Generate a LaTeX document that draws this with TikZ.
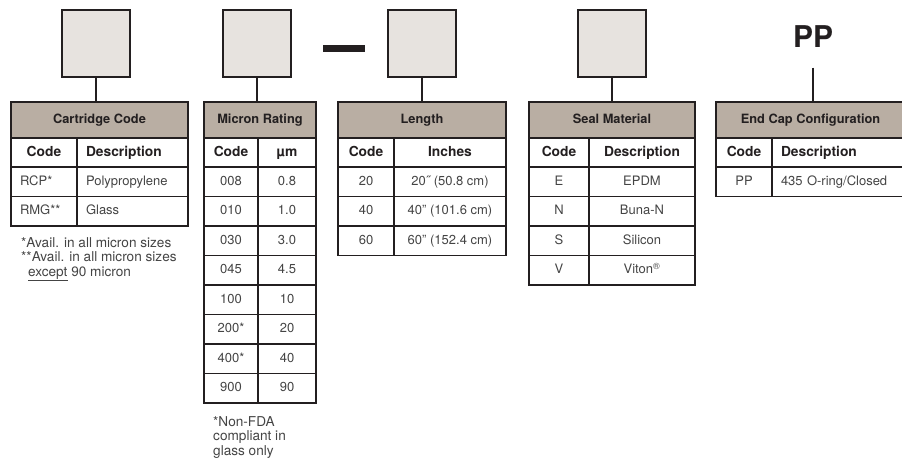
\documentclass[tikz,border=0pt]{standalone}
\usepackage{fontspec}
\setmainfont{TeX Gyre Heros}
\usetikzlibrary{positioning}
\definecolor{linec}{HTML}{231F20}
\definecolor{boxc}{HTML}{E7E3DF}
\definecolor{headc}{HTML}{B9AEA3}
\definecolor{textc}{HTML}{444444}

\begin{document}
\begin{tikzpicture}[x=1pt,y=-1pt,
    codebox/.style={draw=linec,fill=boxc,line width=2pt,
                    minimum width=68pt,minimum height=67pt,inner sep=0pt},
    sepbar/.style={fill=linec,minimum width=42pt,minimum height=7pt,inner sep=0pt},
    link/.style={draw=linec,line width=2pt},
    cell/.style={draw=linec,line width=1.8pt,anchor=north west,
                 inner sep=0pt,outer sep=0pt,minimum height=29.5pt,
                 text height=9.5pt,text depth=2.5pt,text=textc,
                 font=\fontsize{13}{15}\selectfont},
    lcell/.style={align=left,inner xsep=9pt},
    title/.style={cell,fill=headc,minimum height=36pt,text=linec,
                  font=\bfseries\fontsize{12.8}{15}\selectfont},
    colhead/.style={cell,minimum height=29pt,text=linec,
                    font=\bfseries\fontsize{13.8}{16}\selectfont},
    note/.style={anchor=north west,inner sep=0pt,align=left,text=textc,
                 font=\fontsize{13.6}{14.6}\selectfont}]
  \useasboundingbox (0,0) rectangle (902,461);

  % cartridge code
  \node[codebox] (cartbox) at (96,43.5) {};
  \node[title,minimum width=177pt] (carttitle) at (11,102) {Cartridge Code};
  \node[colhead,minimum width=66pt] (carthcode) at (11,138) {Code};
  \node[colhead,lcell,text width=93pt] (carthdesc) at (77,138) {Description};
  \foreach \code/\desc [count=\i] in {RCP*/Polypropylene,RMG**/Glass} {
    \node[cell,lcell,text width=48pt] (cartcode\i) at (11,{137.5+29.5*\i}) {\code};
    \node[cell,lcell,text width=93pt] (cartdesc\i) at (77,{137.5+29.5*\i}) {\desc};
  }
  \draw[link] (cartbox.south) -- (cartbox.south |- carttitle.north);
  \node[note] (cartnote) at (21,237) {*Avail. in all micron sizes\\
    **Avail. in all micron sizes\\\hspace*{7pt}\underline{except} 90 micron};

  % micron rating
  \node[codebox] (micbox) at (257,43.5) {};
  \node[title,minimum width=112pt] (mictitle) at (204,102) {Micron Rating};
  \node[colhead,minimum width=54pt] (michcode) at (204,138) {Code};
  \node[colhead,minimum width=58pt] (michum) at (258,138) {µm};
  \foreach \code/\um [count=\i] in {008/0.8,010/1.0,030/3.0,045/4.5,
                                    100/10,200*/20,400*/40,900/90} {
    \node[cell,minimum width=54pt] (miccode\i) at (204,{137.5+29.5*\i}) {\code};
    \node[cell,minimum width=58pt] (micum\i) at (258,{137.5+29.5*\i}) {\um};
  }
  \draw[link] (micbox.south) -- (micbox.south |- mictitle.north);
  \node[note] (micnote) at (213,416) {*Non-FDA\\compliant in\\glass only};

  \node[sepbar] (sep) at (344,48.5) {};

  % length
  \node[codebox] (lenbox) at (422,43.5) {};
  \node[title,minimum width=168pt] (lentitle) at (338,102) {Length};
  \node[colhead,minimum width=56pt] (lenhcode) at (338,138) {Code};
  \node[colhead,minimum width=112pt] (lenhinch) at (394,138) {Inches};
  \foreach \code/\inch [count=\i] in {20/20˝ (50.8 cm),40/40" (101.6 cm),
                                      60/60" (152.4 cm)} {
    \node[cell,minimum width=56pt] (lencode\i) at (338,{137.5+29.5*\i}) {\code};
    \node[cell,minimum width=112pt] (leninch\i) at (394,{137.5+29.5*\i}) {\inch};
  }
  \draw[link] (lenbox.south) -- (lenbox.south |- lentitle.north);

  % seal material
  \node[codebox] (sealbox) at (612,43.5) {};
  \node[title,minimum width=166pt] (sealtitle) at (529,102) {Seal Material};
  \node[colhead,minimum width=60pt] (sealhcode) at (529,138) {Code};
  \node[colhead,minimum width=106pt] (sealhdesc) at (589,138) {Description};
  \foreach \code/\desc [count=\i] in {E/EPDM,N/Buna-N,S/Silicon,
                                      V/Viton\textsuperscript{®}} {
    \node[cell,minimum width=60pt] (sealcode\i) at (529,{137.5+29.5*\i}) {\code};
    \node[cell,minimum width=106pt] (sealdesc\i) at (589,{137.5+29.5*\i}) {\desc};
  }
  \draw[link] (sealbox.south) -- (sealbox.south |- sealtitle.north);

  % end cap configuration
  \node[text=linec,inner sep=0pt,font=\bfseries\fontsize{30}{30}\selectfont]
    (pp) at (813,36.5) {PP};
  \node[title,minimum width=189pt] (captitle) at (716,102) {End Cap Configuration};
  \node[colhead,minimum width=56pt] (caphcode) at (716,138) {Code};
  \node[colhead,lcell,text width=115pt] (caphdesc) at (772,138) {Description};
  \node[cell,minimum width=56pt] (capcode1) at (716,167) {PP};
  \node[cell,lcell,text width=115pt] (capdesc1) at (772,167) {435 O-ring/Closed};
  \draw[link] ([yshift=-20pt]pp.south) -- (pp.south |- captitle.north);
\end{tikzpicture}
\end{document}
